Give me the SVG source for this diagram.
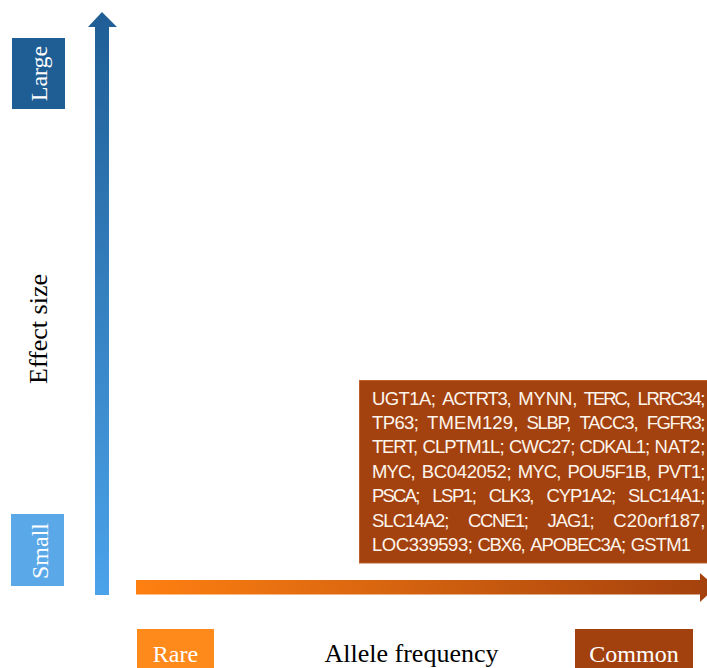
<svg xmlns="http://www.w3.org/2000/svg" width="707" height="668" viewBox="0 0 707 668">
<defs>
<linearGradient id="gv" x1="0" y1="0" x2="0" y2="1">
<stop offset="0" stop-color="#1F5E95"/>
<stop offset="1" stop-color="#4BA3EA"/>
</linearGradient>
<linearGradient id="gh" x1="0" y1="0" x2="1" y2="0">
<stop offset="0" stop-color="#FF8011"/>
<stop offset="1" stop-color="#A3400D"/>
</linearGradient>
<style>
.serif{font-family:"Liberation Serif","Times New Roman",serif;}
.lbl{fill:#FFFFFF;font-size:24px;}
.axis{fill:#000000;font-size:26px;}
.genes{font-family:"Liberation Sans",Arial,sans-serif;font-size:18.5px;fill:#FDF5EC;}
</style>
</defs>
<rect width="707" height="668" fill="#FFFFFF"/>

<g id="connectors">
<path d="M95,595 L95,27 L88,27 L102,12 L117,27 L109,27 L109,595 Z" fill="url(#gv)"/>
<path d="M136,580 L700,580 L700,573 L716,587 L700,602 L700,594.5 L136,594.5 Z" fill="url(#gh)"/>
</g>

<g id="large">
<rect x="12" y="38" width="53" height="71" fill="#1F5E94"/>
<text class="serif lbl" transform="translate(47,73.5) rotate(-90)" text-anchor="middle">Large</text>
</g>

<g id="small">
<rect x="11" y="514" width="53" height="72" fill="#5BA8E8"/>
<text class="serif lbl" transform="translate(47.5,551) rotate(-90)" text-anchor="middle">Small</text>
</g>

<g id="effect-size">
<text class="serif axis" transform="translate(47,329) rotate(-90)" text-anchor="middle">Effect size</text>
</g>

<g id="rare">
<rect x="137" y="629" width="77" height="40" fill="#FF8A1C"/>
<text class="serif lbl" x="175.5" y="662" text-anchor="middle" font-size="26">Rare</text>
</g>

<g id="allele-frequency">
<text class="serif axis" x="411.5" y="662" text-anchor="middle">Allele frequency</text>
</g>

<g id="common">
<rect x="575" y="629" width="118" height="40" fill="#A3410E"/>
<text class="serif lbl" x="634" y="662" text-anchor="middle" font-size="26">Common</text>
</g>

<g id="genes-box">
<rect x="359.5" y="380.5" width="360" height="182.5" fill="#A4420F" stroke="#BE5F2C" stroke-width="1"/>
<text class="genes" y="404.6"><tspan x="372" textLength="63.8">UGT1A;</tspan><tspan x="442.3" textLength="69.4">ACTRT3,</tspan><tspan x="518.2" textLength="59.1">MYNN,</tspan><tspan x="583.8" textLength="47.2">TERC,</tspan><tspan x="637.5" textLength="68">LRRC34;</tspan></text>
<text class="genes" y="429"><tspan x="372" textLength="46.9">TP63;</tspan><tspan x="427" textLength="91.3">TMEM129,</tspan><tspan x="526.4" textLength="44.9">SLBP,</tspan><tspan x="579.4" textLength="59.2">TACC3,</tspan><tspan x="646.7" textLength="58.8">FGFR3;</tspan></text>
<text class="genes" y="453.4"><tspan x="372" textLength="46.2">TERT,</tspan><tspan x="422.5" textLength="82.1">CLPTM1L;</tspan><tspan x="508.9" textLength="66.4">CWC27;</tspan><tspan x="579.6" textLength="70.6">CDKAL1;</tspan><tspan x="654.5" textLength="51">NAT2;</tspan></text>
<text class="genes" y="477.8"><tspan x="372" textLength="43.6">MYC,</tspan><tspan x="421.7" textLength="89.9">BC042052;</tspan><tspan x="517.7" textLength="43.6">MYC,</tspan><tspan x="567.4" textLength="83.8">POU5F1B,</tspan><tspan x="657.4" textLength="48.1">PVT1;</tspan></text>
<text class="genes" y="502.2"><tspan x="372" textLength="48.3">PSCA;</tspan><tspan x="432.3" textLength="44.5">LSP1;</tspan><tspan x="488.7" textLength="45.7">CLK3,</tspan><tspan x="546.4" textLength="69.7">CYP1A2;</tspan><tspan x="628" textLength="77.5">SLC14A1;</tspan></text>
<text class="genes" y="526.6"><tspan x="372" textLength="77.5">SLC14A2;</tspan><tspan x="468" textLength="61">CCNE1;</tspan><tspan x="547.5" textLength="47.2">JAG1;</tspan><tspan x="613.3" textLength="92.2">C20orf187,</tspan></text>
<text class="genes" y="551"><tspan x="372" textLength="100.9">LOC339593;</tspan><tspan x="477.5" textLength="48.2">CBX6,</tspan><tspan x="530.3" textLength="95.8">APOBEC3A;</tspan><tspan x="630.7" textLength="60.3">GSTM1</tspan></text>
</g>
</svg>
